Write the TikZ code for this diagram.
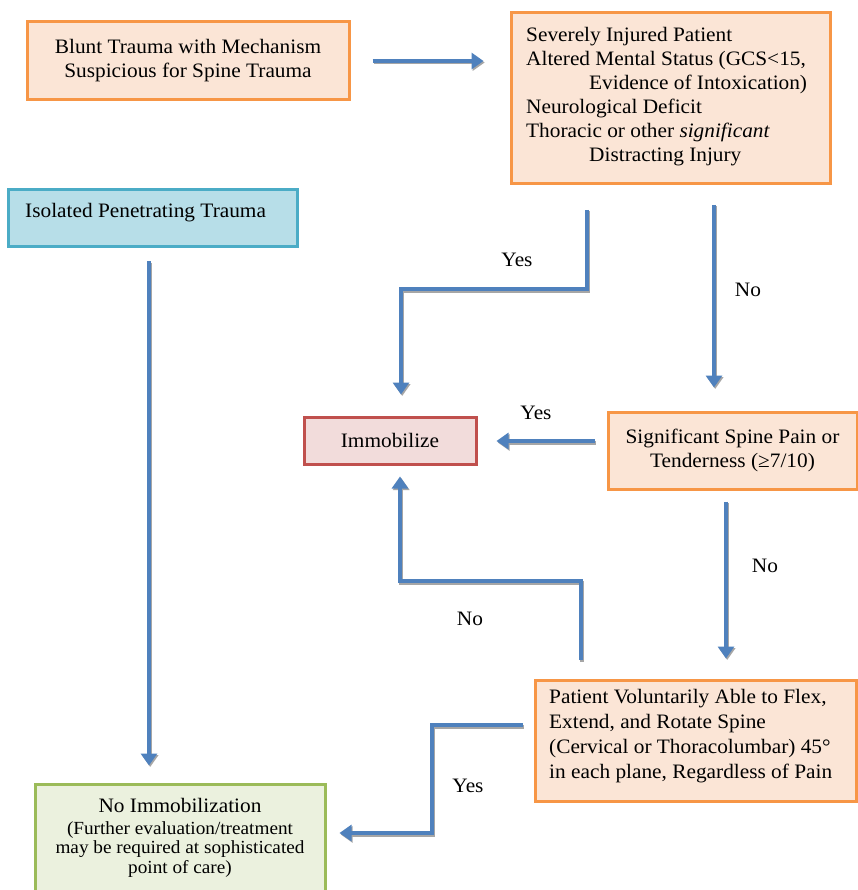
\documentclass[tikz,border=0pt]{standalone}
\usepackage{fontspec}
\setmainfont{Liberation Serif}[FakeStretch=1.04]
\usetikzlibrary{arrows.meta}
\definecolor{orB}{HTML}{F79646}
\definecolor{orF}{HTML}{FBE5D6}
\definecolor{blB}{HTML}{4BACC6}
\definecolor{blF}{HTML}{B7DEE8}
\definecolor{rdB}{HTML}{C0504D}
\definecolor{rdF}{HTML}{F2DCDB}
\definecolor{grB}{HTML}{9BBB59}
\definecolor{grF}{HTML}{EBF1DE}
\definecolor{arC}{HTML}{4F81BD}
\tikzset{
  box/.style={draw, line width=3pt, inner sep=0pt, font=\fontsize{20.5}{24}\selectfont},
  orbox/.style={box, draw=orB, fill=orF},
  blbox/.style={box, draw=blB, fill=blF},
  rdbox/.style={box, draw=rdB, fill=rdF},
  grbox/.style={box, draw=grB, fill=grF},
  arr/.style={draw=arC, line width=4pt, -{Triangle[width=16pt,length=12pt]},
    preaction={draw=black!35, line width=4pt, -{Triangle[width=16pt,length=12pt]}, transform canvas={shift={(1.2pt,-1.5pt)}}}},
  lbl/.style={font=\fontsize{20.5}{24}\selectfont, inner sep=0pt}
}
\begin{document}
\begin{tikzpicture}[x=1pt,y=-1pt]
\useasboundingbox (0,0) rectangle (857,890);
\fill[white] (0,0) rectangle (857,890);

\node[orbox, minimum width=322pt, minimum height=78pt, align=center] (blunt) at (188,61)
  {Blunt Trauma with Mechanism\\Suspicious for Spine Trauma};

\node[orbox, minimum width=319pt, minimum height=171pt] (sev) at (670.5,98.5) {};
\node[lbl, anchor=north west, align=left] (sevtxt) at (526,27)
  {Severely Injured Patient\\
   Altered Mental Status (GCS<15,\\
   \hspace*{63pt}Evidence of Intoxication)\\
   Neurological Deficit\\
   Thoracic or other \textit{significant}\\
   \hspace*{63pt}Distracting Injury};

\node[blbox, minimum width=289pt, minimum height=57pt] (iso) at (152.5,218.5) {};
\node[lbl, anchor=west] (isotxt) at (25,213) {Isolated Penetrating Trauma};

\node[rdbox, minimum width=172pt, minimum height=47pt] (imm) at (390,440.5) {Immobilize};

\node[orbox, minimum width=249pt, minimum height=77pt, align=center] (sig) at (732.5,450.5)
  {Significant Spine Pain or\\Tenderness (≥7/10)};

\node[orbox, minimum width=321pt, minimum height=121pt] (pat) at (695.5,740.5) {};
\node[lbl, anchor=north west, align=left, font=\fontsize{20.5}{25}\selectfont] (pattxt) at (549,689)
  {Patient Voluntarily Able to Flex,\\
   Extend, and Rotate Spine\\
   (Cervical or Thoracolumbar) 45°\\
   in each plane, Regardless of Pain};

\node[grbox, minimum width=290pt, minimum height=112pt] (noim) at (180,840) {};
\node[lbl, anchor=north, align=center] (noimtxt) at (180,798) {No Immobilization};
\node[lbl, anchor=north, align=center, font=\fontsize{18.5}{19.5}\selectfont] (noimsub) at (180,821)
  {(Further evaluation/treatment\\
   may be required at sophisticated\\
   point of care)};

% connectors
\draw[arr] ([xshift=22pt]blunt.east) -- ([xshift=-26pt]sev.west |- blunt.east);
\coordinate (yesA) at (587,210);
\draw[arr] (yesA) -- (587,289) -- (401,289) -- ([yshift=21pt]imm.north -| 401,0);
\coordinate (noA) at (714,205);
\draw[arr] (noA) -- ([yshift=23pt]sig.north -| noA);
\draw[arr] ([yshift=-13pt]iso.south -| 149,0) -- ([yshift=17pt]noim.north -| 149,0);
\draw[arr] ([xshift=-12pt]sig.west |- 0,441) -- ([xshift=19pt]imm.east |- 0,441);
\draw[arr] ([yshift=-11pt]sig.south -| 726,0) -- ([yshift=20pt]pat.north -| 726,0);
\coordinate (noB) at (581,660);
\draw[arr] (noB) -- (581,581) -- (400,581) -- ([yshift=-11pt]imm.south -| 400,0);
\draw[arr] ([xshift=-11pt]pat.west |- 0,725) -- (432,725) -- (432,833) -- ([xshift=13pt]noim.east |- 0,833);

% labels
\node[lbl] (l1) at (517,260) {Yes};
\node[lbl] (l2) at (748,290) {No};
\node[lbl] (l3) at (536,413) {Yes};
\node[lbl] (l4) at (765,566) {No};
\node[lbl] (l5) at (470,619) {No};
\node[lbl] (l6) at (468,786) {Yes};
\end{tikzpicture}
\end{document}
